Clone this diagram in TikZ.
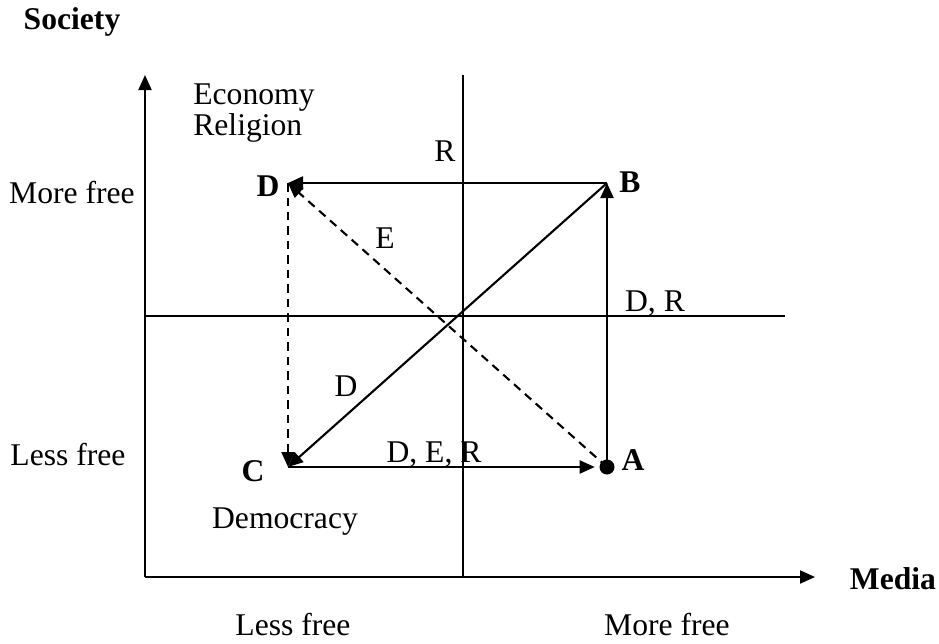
\documentclass[tikz,border=0pt]{standalone}
\usepackage{fontspec}
\setmainfont{Liberation Serif}
\usepackage{tikz}
\usetikzlibrary{arrows.meta,positioning}
\tikzset{
  axisline/.style={line width=1.2pt, -{Triangle[length=0.3cm, width=0.26cm]}},
  gridline/.style={line width=1.2pt},
  move/.style={line width=1.2pt, -{Triangle[length=0.3cm, width=0.26cm]}},
  dashmove/.style={move, dash pattern=on 0.17cm off 0.12cm},
  lbl/.style={font=\fontsize{18}{21}\selectfont, inner sep=0pt},
  ptlbl/.style={lbl, font=\fontsize{18}{21}\selectfont\bfseries},
}

\begin{document}
\begin{tikzpicture}[x=0.02cm, y=-0.02cm]
\useasboundingbox (0,0) rectangle (939,643);

%% Axes
\coordinate (orig) at (145,577);
\coordinate (ytop) at (145,75);
\coordinate (xend) at (815,577);
\draw[axisline] (orig) -- (ytop);
\draw[axisline] (orig) -- (xend);

%% Quadrant lines
\coordinate (vtop) at (463,75);
\coordinate (vbot) at (463,577);
\coordinate (hleft) at (145,316);
\coordinate (hright) at (785,316);
\draw[gridline] (vbot) -- (vtop);
\draw[gridline] (hleft) -- (hright);

%% Positions
\coordinate (A) at (607,467);
\coordinate (B) at (607,183);
\coordinate (C) at (288,467);
\coordinate (D) at (288,183);
\fill (A) circle (0.15cm);

\draw[move] (C) -- ([xshift=-7]A);
\draw[move] (A) -- (B);
\draw[move] (B) -- (D);
\draw[move] (B) -- (C);
\draw[dashmove] (A) -- (D);
\draw[dashmove] (D) -- (C);

%% Point labels
\node[ptlbl] (lA) at (633,460) {A};
\node[ptlbl] (lB) at (630,182) {B};
\node[ptlbl] (lC) at (253,471) {C};
\node[ptlbl] (lD) at (268,186) {D};

%% Arrow labels
\node[lbl] (tR)   at (445,151) {R};
\node[lbl] (tE)   at (385,238) {E};
\node[lbl] (tDR)  at (655,304) {D, R};
\node[lbl] (tD)   at (346,386) {D};
\node[lbl] (tDER) at (434,455) {D, E, R};

%% Axis labels
\node[ptlbl] (society) at (72,22) {Society};
\node[ptlbl] (media)   at (893,579) {Media};
\node[lbl] (ymore) at (72,193) {More free};
\node[lbl] (yless) at (68,455) {Less free};
\node[lbl] (xless) at (293,625) {Less free};
\node[lbl] (xmore) at (667,625) {More free};

%% Areas
\node[lbl, anchor=west] (econ) at (193,98) {Economy};
\node[lbl, anchor=west] (relig) at (193,128) {Religion};
\node[lbl] (democ) at (285,522) {Democracy};
\end{tikzpicture}
\end{document}
